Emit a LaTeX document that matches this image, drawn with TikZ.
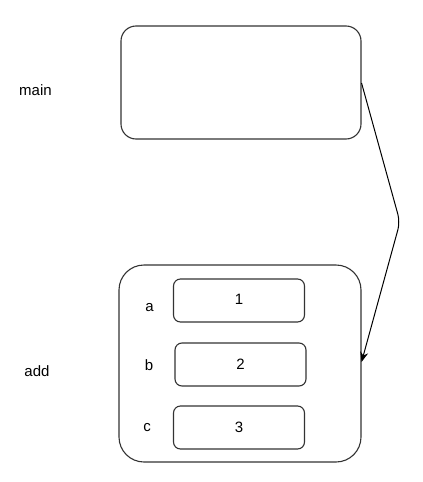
\documentclass[tikz,border=0pt]{standalone}
\usepackage{fontspec}
\setmainfont{Liberation Sans}
\usetikzlibrary{arrows.meta}
\definecolor{edge}{HTML}{333333}
\begin{document}
\begin{tikzpicture}[x=1pt,y=-1pt,
  bigbox/.style={draw=edge,line width=1.1pt,rounded corners=#1},
  cell/.style={draw=edge,line width=1.1pt,rounded corners=7pt,minimum width=131pt,minimum height=43pt,inner sep=0pt,font=\fontsize{15}{17}\selectfont,text=black},
  lbl/.style={font=\fontsize{15}{17}\selectfont,text=black,inner sep=0pt},
  link/.style={draw=black,line width=1pt,rounded corners=8pt,-{Stealth[length=10pt,width=8pt]}}]
\useasboundingbox (0,0) rectangle (423,482);
\node[bigbox=15pt,minimum width=240pt,minimum height=113pt,inner sep=0pt] (main) at (241,82.5) {};
\node[bigbox=25pt,minimum width=242pt,minimum height=197pt,inner sep=0pt] (add) at (240,363.5) {};
\node[lbl] (mainlbl) at (35.5,90) {main};
\node[lbl] (addlbl) at (37,371) {add};
\node[cell] (v1) at (239,300.5) {\raisebox{2pt}{1}};
\node[cell] (v2) at (240.5,364.5) {2};
\node[cell] (v3) at (239,427.5) {3};
\node[lbl] (la) at (149.5,308) {a};
\node[lbl] (lb) at (149,365) {b};
\node[lbl] (lc) at (147,428) {c};
\coordinate (bend) at (400,222);
\draw[link] (main.east |- 0,83) -- (bend) -- (add.east |- 0,362);
\end{tikzpicture}
\end{document}
